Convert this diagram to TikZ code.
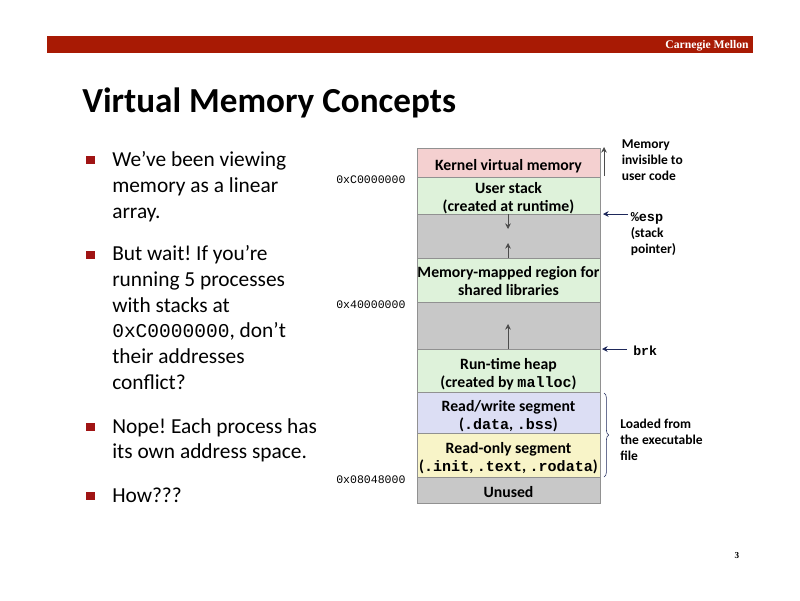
\documentclass[tikz,border=0pt]{standalone}
\usepackage{fontspec}
\setmainfont{Carlito}
\setmonofont{Liberation Mono}
\newfontfamily\logofont{Liberation Serif}
\usepackage{xcolor}
\usetikzlibrary{arrows.meta,decorations.pathreplacing}
\definecolor{barred}{RGB}{168,26,4}
\definecolor{bulletred}{RGB}{160,20,20}
\definecolor{kernelpink}{RGB}{244,208,208}
\definecolor{stackgreen}{RGB}{222,242,218}
\definecolor{gapgray}{RGB}{200,200,200}
\definecolor{rwblue}{RGB}{220,222,244}
\definecolor{roocre}{RGB}{248,244,200}
\definecolor{edgegray}{RGB}{145,145,145}
\definecolor{pointernavy}{RGB}{30,40,90}
\newcommand{\segcode}[1]{{\ttfamily\fontsize{10.7}{13}\selectfont #1}}
\frenchspacing

\begin{document}
\begin{tikzpicture}[
  x=0.25mm, y=-0.25mm,
  seg/.style = {
    rectangle, draw=edgegray, line width=0.4pt, inner sep=0pt,
    minimum width=45.75mm, align=center, text depth=0pt,
    font=\fontsize{11.2}{13}\selectfont\bfseries
  },
  para/.style = {
    anchor=north west, inner sep=0pt, align=left,
    font=\fontsize{15.2}{18.4}\selectfont
  },
  bul/.style = {rectangle, fill=bulletred, minimum size=2.1mm, inner sep=0pt},
  addr/.style = {anchor=west, inner sep=0pt, font=\ttfamily\fontsize{8.2}{9}\selectfont},
  note/.style = {anchor=north west, inner sep=0pt, align=left,
    font=\fontsize{9.6}{11.4}\selectfont\bfseries},
  arr/.style = {-{Stealth[length=4pt,width=4pt]}, line width=0.6pt, black!70},
  ptr/.style = {-{Stealth[length=4pt,width=4pt]}, line width=0.6pt, pointernavy}
]
  \useasboundingbox (0,0) rectangle (800,600);

  % header
  \node[rectangle, fill=barred, minimum width=176.5mm, minimum height=4.25mm, inner sep=0pt] (bar) at (400,44) {};
  \node[anchor=east, inner sep=0pt, text=white, font=\logofont\bfseries\fontsize{8.3}{9}\selectfont] (logo) at (749,46) {Carnegie Mellon};
  \node[anchor=west, inner sep=0pt, font=\fontsize{25}{28}\selectfont\bfseries] (title) at (82,103) {Virtual Memory Concepts};

  % left column
  \node[bul] (b1) at (90.5,160) {};
  \node[bul] (b2) at (90.5,255) {};
  \node[bul] (b3) at (90.5,427) {};
  \node[bul] (b4) at (90.5,496) {};
  \node[para] (p1) at (112,151) {We’ve been viewing\\memory as a linear\\array.};
  \node[para] (p2) at (112,245) {But wait! If you’re\\running 5 processes\\with stacks at\\{\ttfamily\fontsize{13.9}{18.4}\selectfont 0xC0000000}, don’t\\their addresses\\conflict?};
  \node[para] (p3) at (112,418) {Nope! Each process has\\its own address space.};
  \node[para] (p4) at (112,488) {How???};

  % memory map
  \node[seg, fill=kernelpink, minimum height=7.25mm]  (kernel) at (508.5,162.5) {\raisebox{-3pt}{Kernel virtual memory}};
  \node[seg, fill=stackgreen, minimum height=9.25mm]  (ustack) at (508.5,195.5) {\raisebox{-2pt}{User stack}\\\raisebox{-2pt}{(created at runtime)}};
  \node[seg, fill=gapgray,    minimum height=11mm]    (gapa)   at (508.5,236)   {};
  \node[seg, fill=stackgreen, minimum height=11mm]    (mmap)   at (508.5,280)   {\raisebox{-1.5pt}{Memory-mapped region for}\\\raisebox{-1.5pt}{shared libraries}};
  \node[seg, fill=gapgray,    minimum height=11.75mm] (gapb)   at (508.5,325.5) {};
  \node[seg, fill=stackgreen, minimum height=10.75mm] (heap)   at (508.5,370.5) {\raisebox{-3.4pt}{Run-time heap}\\\raisebox{-3.4pt}{(created by \segcode{malloc})}};
  \node[seg, fill=rwblue,     minimum height=10.25mm] (rw)     at (508.5,412.5) {\raisebox{-3.4pt}{Read/write segment}\\\raisebox{-3.4pt}{(\segcode{.data}, \segcode{.bss})}};
  \node[seg, fill=roocre,     minimum height=11mm]    (ro)     at (508.5,455)   {\raisebox{-3pt}{Read-only segment}\\\raisebox{-3pt}{(\segcode{.init}, \segcode{.text}, \segcode{.rodata})}};
  \node[seg, fill=gapgray,    minimum height=6.5mm]   (unused) at (508.5,490)   {\raisebox{-2.6pt}{Unused}};

  % addresses
  \node[addr] (a1) at (336,180) {0xC0000000};
  \node[addr] (a2) at (336,305) {0x40000000};
  \node[addr] (a3) at (336,480) {0x08048000};

  % side notes
  \node[note] (invis) at (621.5,139) {Memory\\invisible to\\user code};
  \node[note] (esp) at (630.5,212) {{\ttfamily\%esp}\\(stack\\pointer)};
  \node[anchor=west, inner sep=0pt, font=\ttfamily\bfseries\fontsize{9.4}{11}\selectfont] (brk) at (633,351) {brk};
  \node[note] (load) at (620,419) {Loaded from\\the executable\\file};

  % arrows
  \coordinate (invisa) at (604,176);
  \coordinate (invisb) at (604,147);
  \coordinate (espa) at (603,214);
  \coordinate (espb) at (628,214);
  \coordinate (brka) at (602,349);
  \coordinate (brkb) at (627,349);
  \coordinate (downa) at (508,214);
  \coordinate (downb) at (508,229);
  \coordinate (upa) at (508,258);
  \coordinate (upb) at (508,243);
  \coordinate (heapa) at (508,349);
  \coordinate (heapb) at (508,324);
  \coordinate (bracea) at (604,393);
  \coordinate (braceb) at (604,477);

  \draw[arr] (invisa) -- (invisb);
  \draw[ptr] (espb) -- (espa);
  \draw[ptr] (brkb) -- (brka);
  \draw[arr] (downa) -- (downb);
  \draw[arr] (upa) -- (upb);
  \draw[arr] (heapa) -- (heapb);
  \draw[pointernavy, line width=0.4pt, decorate, decoration={brace, amplitude=1.2mm}] (bracea) -- (braceb);

  % page number
  \node[inner sep=0pt, font=\logofont\bfseries\fontsize{6.5}{8}\selectfont] (pageno) at (737,556) {3};
\end{tikzpicture}
\end{document}
